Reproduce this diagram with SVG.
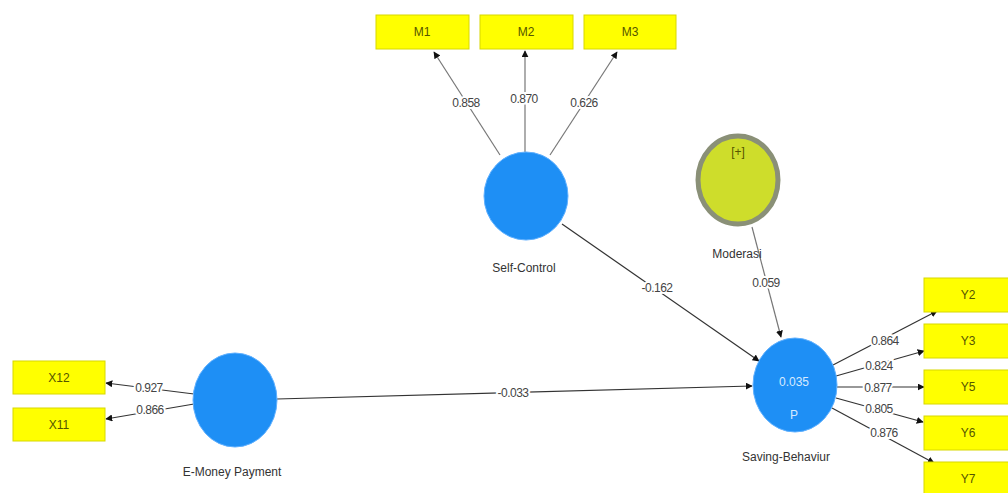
<svg xmlns="http://www.w3.org/2000/svg" width="1008" height="493" viewBox="0 0 1008 493">
<style>
.ind{fill:#ffff00;stroke:#d8d800;stroke-width:1}
.it{font-family:"Liberation Sans",Arial,sans-serif;font-size:12px;fill:#555500;text-anchor:middle}
.lv{fill:#1e8ff5;stroke:#5fb0ff;stroke-width:1}
.lbl{font-family:"Liberation Sans",Arial,sans-serif;font-size:12px;fill:#333;text-anchor:middle}
.in{font-family:"Liberation Sans",Arial,sans-serif;font-size:12px;fill:#d6eaff;text-anchor:middle}
.w{font-family:"Liberation Sans",Arial,sans-serif;font-size:12px;fill:#444;text-anchor:middle;stroke:#fff;stroke-width:4;paint-order:stroke;letter-spacing:-0.5px}
.c{stroke:#333;stroke-width:1.2;fill:none;marker-end:url(#ah)}
.g{stroke:#777;stroke-width:1.2;fill:none;marker-end:url(#ah)}
</style>
<defs>
<marker id="ah" viewBox="0 0 10 10" refX="9" refY="5" markerWidth="7" markerHeight="7" orient="auto" markerUnits="userSpaceOnUse">
<path d="M0,0 L10,5 L0,10 z" fill="#111"/>
</marker>
</defs>
<rect width="1008" height="493" fill="#fff"/>
<g id="connectors">
<line class="g" x1="500" y1="155" x2="434" y2="52"/>
<line class="g" x1="525" y1="152" x2="525" y2="51"/>
<line class="g" x1="550" y1="155" x2="617" y2="52"/>
<line class="c" x1="562" y1="224" x2="759" y2="361"/>
<line class="c" x1="277" y1="399" x2="752" y2="386"/>
<line class="g" x1="752" y1="227" x2="781" y2="337"/>
<line class="c" x1="194" y1="394" x2="106" y2="383"/>
<line class="c" x1="194" y1="404" x2="106" y2="419"/>
<line class="c" x1="833" y1="365" x2="937" y2="311"/>
<line class="c" x1="836" y1="376" x2="924" y2="351"/>
<line class="c" x1="837" y1="387" x2="924" y2="387"/>
<line class="c" x1="836" y1="398" x2="923" y2="422"/>
<line class="c" x1="832" y1="408" x2="934" y2="463"/>
<text class="w" x="466" y="107">0.858</text>
<text class="w" x="524" y="103">0.870</text>
<text class="w" x="584" y="107">0.626</text>
<text class="w" x="657" y="292">-0.162</text>
<text class="w" x="513" y="397">-0.033</text>
<text class="w" x="766" y="287">0.059</text>
<text class="w" x="149" y="392">0.927</text>
<text class="w" x="150" y="414">0.866</text>
<text class="w" x="885" y="345">0.864</text>
<text class="w" x="879" y="370">0.824</text>
<text class="w" x="878" y="392">0.877</text>
<text class="w" x="879" y="413">0.805</text>
<text class="w" x="884" y="437">0.876</text>
</g>
<g id="M1"><rect class="ind" x="376" y="15" width="93" height="34"/><text class="it" x="422" y="36">M1</text></g>
<g id="M2"><rect class="ind" x="480" y="15" width="93" height="34"/><text class="it" x="526" y="36">M2</text></g>
<g id="M3"><rect class="ind" x="584" y="15" width="92" height="34"/><text class="it" x="630" y="36">M3</text></g>
<g id="SelfControl"><ellipse class="lv" cx="526" cy="196" rx="42" ry="44"/><text class="lbl" x="524" y="272">Self-Control</text></g>
<g id="Moderasi"><ellipse cx="738" cy="180" rx="40" ry="44" fill="#cedd2b" stroke="#8a9077" stroke-width="5"/><text class="it" x="738" y="156">[+]</text><text class="lbl" x="737" y="258">Moderasi</text></g>
<g id="SavingBehaviur"><ellipse class="lv" cx="795" cy="385" rx="42" ry="47"/><text class="in" x="794" y="386">0.035</text><text class="in" x="794" y="419">P</text><text class="lbl" x="786" y="461">Saving-Behaviur</text></g>
<g id="EMoney"><ellipse class="lv" cx="235" cy="400" rx="42" ry="47"/><text class="lbl" x="232" y="476">E-Money Payment</text></g>
<g id="X12"><rect class="ind" x="13" y="361" width="92" height="33"/><text class="it" x="59" y="382">X12</text></g>
<g id="X11"><rect class="ind" x="13" y="408" width="92" height="33"/><text class="it" x="59" y="429">X11</text></g>
<g id="Y2"><rect class="ind" x="924" y="278" width="90" height="34"/><text class="it" x="968" y="299">Y2</text></g>
<g id="Y3"><rect class="ind" x="924" y="324" width="90" height="34"/><text class="it" x="968" y="345">Y3</text></g>
<g id="Y5"><rect class="ind" x="924" y="370" width="90" height="34"/><text class="it" x="968" y="391">Y5</text></g>
<g id="Y6"><rect class="ind" x="924" y="416" width="90" height="34"/><text class="it" x="968" y="437">Y6</text></g>
<g id="Y7"><rect class="ind" x="924" y="462" width="90" height="34"/><text class="it" x="968" y="483">Y7</text></g>
</svg>
